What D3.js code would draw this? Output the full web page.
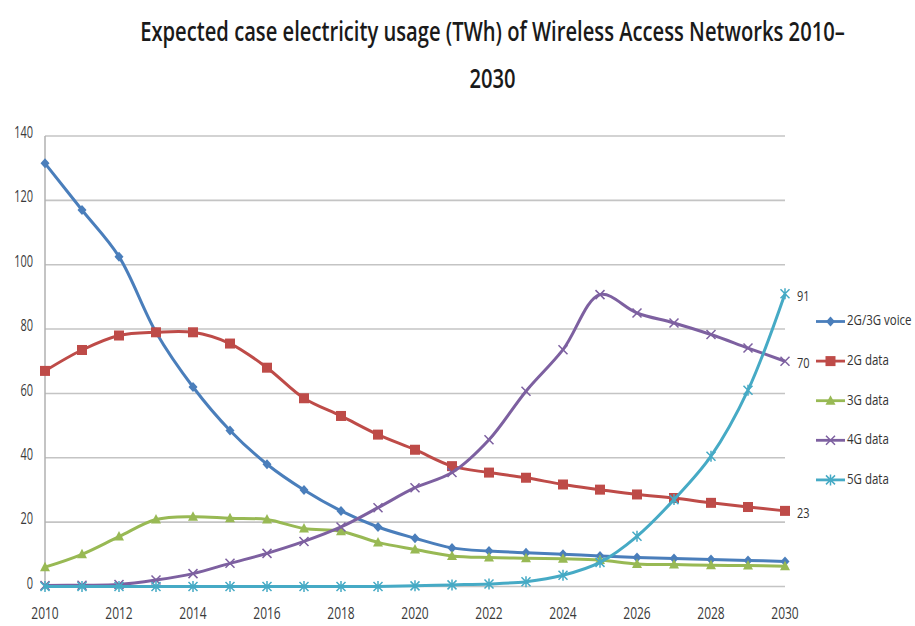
<!DOCTYPE html>
<html><head><meta charset="utf-8">
<script src="https://cdn.jsdelivr.net/npm/d3@7"></script>
<style>body{margin:0;background:#fff}svg{display:block}</style>
</head><body>
<svg id="chart" width="915" height="626"></svg>
<script>
const years = [2010,2011,2012,2013,2014,2015,2016,2017,2018,2019,2020,2021,2022,2023,2024,2025,2026,2027,2028,2029,2030];
const voice2G3G = [131.5,117,102.5,79,62,48.5,38,30,23.5,18.5,15,12,11,10.5,10,9.5,9,8.7,8.4,8.1,7.8];
const data2G = [67,73.5,78,79,79,75.5,68,58.5,53,47.2,42.5,37.4,35.4,33.8,31.7,30.1,28.6,27.5,26,24.7,23.5];
const data3G = [6,10,15.5,20.8,21.7,21.2,20.8,18,17.2,13.7,11.5,9.5,9,8.8,8.6,8.2,7,6.8,6.6,6.5,6.3];
const data4G = [0.3,0.4,0.6,2,4,7.2,10.3,14,18.5,24.5,30.7,35.4,45.6,60.7,73.6,90.7,85,81.9,78.3,74.1,70];
const data5G = [0,0,0,0,0,0,0,0,0,0,0.2,0.5,0.8,1.5,3.5,7.5,15.6,27,40.5,61,91];
const seriesNames = ["2G/3G voice","2G data","3G data","4G data","5G data"];
const seriesColors = ["#4a7ebb","#be4b48","#98b954","#7d60a0","#46aac5"];
const seriesMarkers = ["diamond","square","triangle","x","star"];
const yTicks = [0,20,40,60,80,100,120,140];
const xTickYears = [2010,2012,2014,2016,2018,2020,2022,2024,2026,2028,2030];
const endLabels = [{s:3,text:"70"},{s:4,text:"91"},{s:1,text:"23"}];
const titleLines = ["Expected case electricity usage (TWh) of Wireless Access Networks 2010–","2030"];

const allSeries = [voice2G3G,data2G,data3G,data4G,data5G];
const svg = d3.select("#chart");
const x = d3.scaleLinear().domain([2010,2030]).range([45,785]);
const y = d3.scaleLinear().domain([0,140]).range([586.5,136]);
const FONT = "'Open Sans', 'Liberation Sans', sans-serif";

function stretchedText(g, tx, ty, sy, txt, opts) {
  const t = g.append("text")
    .attr("transform", `translate(${tx},${ty}) scale(1,${sy})`)
    .attr("font-family", FONT)
    .attr("font-size", opts.size)
    .attr("fill", opts.fill || "#333")
    .attr("text-anchor", opts.anchor || "start")
    .attr("dominant-baseline", opts.baseline || "auto")
    .text(txt);
  if (opts.weight) t.attr("font-weight", opts.weight);
  return t;
}

// Title: size chosen so line 1 is ~705px wide, stretched vertically like the reference
const probe = svg.append("text").attr("font-family", FONT).attr("font-weight", 600).attr("font-size", 20).text(titleLines[0]);
const probeW = probe.node().getComputedTextLength() || 700;
probe.remove();
const titleSize = 20 * 705 / probeW;
const titleScaleY = 19 / (0.714 * titleSize);
const tg = svg.append("g");
stretchedText(tg, 492.5, 41, titleScaleY, titleLines[0], {size: titleSize, anchor:"middle", weight:600, fill:"#1a1a1a"});
stretchedText(tg, 492.5, 88, titleScaleY, titleLines[1], {size: titleSize, anchor:"middle", weight:600, fill:"#1a1a1a"});

// Gridlines
const grid = svg.append("g");
grid.selectAll("line").data(yTicks).join("line")
  .attr("x1", x(2010)).attr("x2", x(2030))
  .attr("y1", d => y(d)).attr("y2", d => y(d))
  .attr("stroke", "#c4c4c4").attr("stroke-width", 1.6);
grid.append("line").attr("x1", x(2010)).attr("x2", x(2010)).attr("y1", y(140)).attr("y2", y(0)+3)
  .attr("stroke", "#b0b0b0").attr("stroke-width", 1.5);

// Y tick labels
const yl = svg.append("g");
yTicks.forEach(v => stretchedText(yl, 33, y(v)-2, 1.4, v, {size: 11, anchor:"end", baseline:"middle", fill:"#3a3a3a"}));
// X tick labels
const xl = svg.append("g");
xTickYears.forEach(v => stretchedText(xl, x(v), 619, 1.3, v, {size: 12, anchor:"middle", fill:"#3a3a3a"}));

// Markers
function drawMarker(g, type, cx, cy, color) {
  if (type === "diamond") {
    g.append("path").attr("d", `M${cx},${cy-5}L${cx+4.5},${cy}L${cx},${cy+5}L${cx-4.5},${cy}Z`).attr("fill", color);
  } else if (type === "square") {
    g.append("rect").attr("x", cx-5).attr("y", cy-5).attr("width", 10).attr("height", 10).attr("fill", color);
  } else if (type === "triangle") {
    g.append("path").attr("d", `M${cx},${cy-5.5}L${cx+5},${cy+4}L${cx-5},${cy+4}Z`).attr("fill", color);
  } else if (type === "x") {
    g.append("path").attr("d", `M${cx-4.5},${cy-4.5}L${cx+4.5},${cy+4.5}M${cx-4.5},${cy+4.5}L${cx+4.5},${cy-4.5}`)
      .attr("stroke", color).attr("stroke-width", 1.5).attr("fill","none");
  } else if (type === "star") {
    g.append("path").attr("d", `M${cx-4.5},${cy-4.5}L${cx+4.5},${cy+4.5}M${cx-4.5},${cy+4.5}L${cx+4.5},${cy-4.5}M${cx},${cy-5.5}L${cx},${cy+5.5}`)
      .attr("stroke", color).attr("stroke-width", 1.5).attr("fill","none");
  }
}

// Lines
const line = d3.line().x((d,i) => x(years[i])).y(d => y(d)).curve(d3.curveCatmullRom.alpha(0.5));
allSeries.forEach((vals, si) => {
  const g = svg.append("g");
  g.append("path").datum(vals).attr("d", line).attr("fill","none")
    .attr("stroke", seriesColors[si]).attr("stroke-width", 3).attr("stroke-linejoin","round");
  vals.forEach((v,i) => drawMarker(g, seriesMarkers[si], x(years[i]), y(v), seriesColors[si]));
});

// End labels
const el = svg.append("g");
endLabels.forEach(e => {
  const v = allSeries[e.s][allSeries[e.s].length-1];
  stretchedText(el, 797, y(v)+3, 1.35, e.text, {size: 11, baseline:"middle", fill:"#333"});
});

// Legend
const lg = svg.append("g");
seriesNames.forEach((name, i) => {
  const ly = 321.5 + i*39.6;
  lg.append("line").attr("x1", 816).attr("x2", 845).attr("y1", ly).attr("y2", ly)
    .attr("stroke", seriesColors[i]).attr("stroke-width", 2.8);
  drawMarker(lg, seriesMarkers[i], 830.5, ly, seriesColors[i]);
  stretchedText(lg, 847, ly, 1.3, name, {size: 11.5, baseline:"middle", fill:"#333"});
});
</script>
</body></html>
